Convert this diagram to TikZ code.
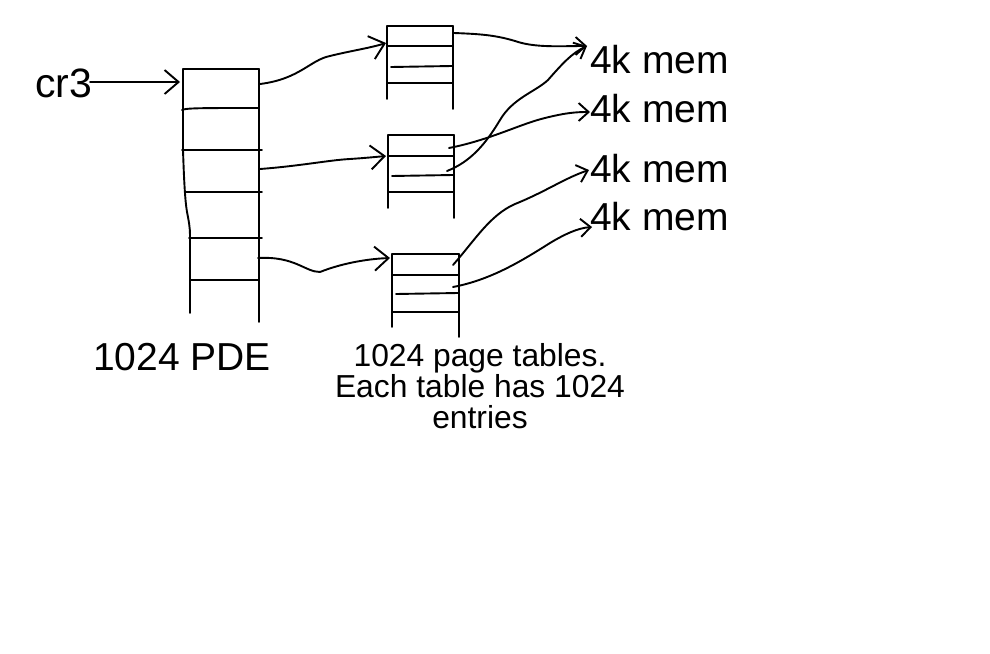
\documentclass[tikz,border=0pt]{standalone}
\usepackage{fontspec}
\setmainfont{Liberation Sans}
\usetikzlibrary{arrows.meta}
\tikzset{
  pen/.style={line width=1.9pt, line cap=round, line join=round},
  bigarrow/.style={pen, -{Straight Barb[length=14pt,width=24pt,line width=1.9pt]}},
  smallarrow/.style={pen, -{Straight Barb[length=10pt,width=18pt,line width=1.9pt]}},
  bigtext/.style={inner sep=0pt, font=\fontsize{39}{39}\selectfont},
  captext/.style={inner sep=0pt, align=center, font=\fontsize{31.8}{31}\selectfont},
}
\begin{document}
\begin{tikzpicture}[x=1pt,y=-1pt]
\useasboundingbox (0,0) rectangle (990,653);
\fill[white] (0,0) rectangle (990,653);

% ---- PDE table ----
\draw[pen] (183,69) -- (259,69);
\draw[pen] (183,69) -- (183,150) .. controls (184,180) and (185,200) .. (187,212) .. controls (189,222) and (190,228) .. (190,235) -- (190,313);
\draw[pen] (259,69) -- (259,322);
\draw[pen] (182,110) .. controls (186,108) and (200,108) .. (259,108);
\draw[pen] (182,150) -- (262,150);
\draw[pen] (186,192) -- (262,192);
\draw[pen] (189,238) -- (262,238);
\draw[pen] (190,280) -- (259,280);

% ---- page table 1 ----
\draw[pen] (387,26) -- (453,26);
\draw[pen] (387,26) -- (387,99);
\draw[pen] (453,26) -- (453,109);
\draw[pen] (387,46) -- (452,46);
\draw[pen] (391,67) -- (452,66);
\draw[pen] (387,83) -- (452,83);

% ---- page table 2 ----
\draw[pen] (388,135) -- (454,135);
\draw[pen] (388,135) -- (388,208);
\draw[pen] (454,135) -- (454,218);
\draw[pen] (388,156) -- (453,156);
\draw[pen] (392,176) -- (453,175);
\draw[pen] (388,192) -- (453,192);

% ---- page table 3 ----
\draw[pen] (392,254) -- (459,254);
\draw[pen] (392,254) -- (392,327);
\draw[pen] (459,254) -- (459,337);
\draw[pen] (392,275) -- (458,275);
\draw[pen] (396,294) -- (458,293);
\draw[pen] (392,312) -- (458,312);

% ---- coordinates ----
\coordinate (cr3end) at (90,82);
\coordinate (pdetop) at (180,82);
\coordinate (pde1) at (260,84);
\coordinate (pde2) at (260,169);
\coordinate (pde3) at (258,258);
\coordinate (pt1in) at (386,43);
\coordinate (pt2in) at (386,156);
\coordinate (pt3in) at (390,258);
\coordinate (pt1out) at (454,33);
\coordinate (pt2outa) at (449,148);
\coordinate (pt2outb) at (447,171);
\coordinate (pt3outa) at (453,265);
\coordinate (pt3outb) at (453,287);
\coordinate (memA) at (587,46);
\coordinate (memB) at (590,112);
\coordinate (memC) at (589,170);
\coordinate (memD) at (592,227);

% ---- texts ----
\node[bigtext, anchor=base west, font=\fontsize{41}{41}\selectfont] (cr3) at (35,97) {cr3};
\node[bigtext, anchor=base west] (mem1) at (590,73) {4k mem};
\node[bigtext, anchor=base west] (mem2) at (590,122) {4k mem};
\node[bigtext, anchor=base west] (mem3) at (590,182) {4k mem};
\node[bigtext, anchor=base west] (mem4) at (590,230) {4k mem};
\node[bigtext, anchor=base west] (pdelabel) at (93,370) {1024 PDE};
\node[captext, anchor=north] (ptlabel) at (480,343) {1024 page tables.\\Each table has 1024\\entries};

% ---- arrows ----
\draw[bigarrow] (cr3end) -- (pdetop);
\draw[bigarrow] (pde1) .. controls (300,79) and (310,60) .. (330,56) .. controls (350,51) and (370,48) .. (pt1in);
\draw[bigarrow] (pde2) .. controls (300,166) and (330,160) .. (350,159) .. controls (365,158) and (375,157) .. (pt2in);
\draw[bigarrow] (pde3) .. controls (295,256) and (305,272) .. (320,272) .. controls (340,264) and (365,259) .. (pt3in);

\draw[smallarrow] (pt1out) .. controls (480,34) and (495,35) .. (515,41) .. controls (535,48) and (560,46) .. (memA);
\draw[smallarrow] (pt2outb) .. controls (470,162) and (485,145) .. (500,120) .. controls (513,98) and (535,92) .. (548,80) .. controls (562,64) and (572,53) .. (memA);
\draw[smallarrow] (pt2outa) .. controls (490,140) and (520,124) .. (545,118) .. controls (565,113) and (575,112) .. (memB);
\draw[smallarrow] (pt3outa) .. controls (475,240) and (490,215) .. (515,204) .. controls (545,192) and (565,178) .. (memC);
\draw[smallarrow] (pt3outb) .. controls (490,280) and (520,262) .. (550,243) .. controls (565,234) and (578,228) .. (memD);
\end{tikzpicture}
\end{document}
